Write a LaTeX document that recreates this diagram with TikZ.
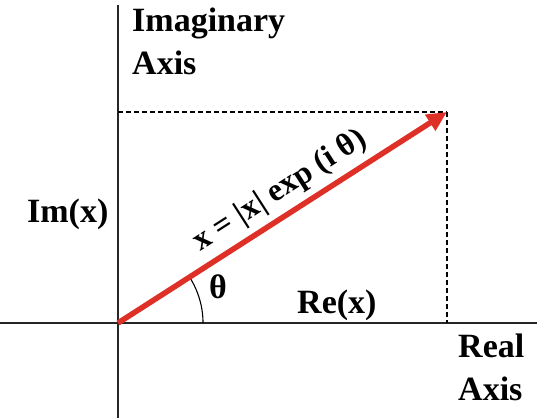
\documentclass[tikz,border=0pt]{standalone}
\usepackage{fontspec}
\setmainfont{Liberation Serif}
\usetikzlibrary{arrows.meta}
\definecolor{vecred}{RGB}{222,48,38}
\tikzset{
  axis/.style={line width=1.8pt, draw=black!85},
  guide/.style={line width=1.1pt, dash pattern=on 5pt off 3pt},
  vector/.style={line width=5.5pt, draw=vecred, -{Triangle[length=20pt,width=18pt]}},
  lbl/.style={font=\fontsize{34}{43}\selectfont\bfseries, inner sep=0pt, align=left},
  eq/.style={font=\fontsize{32}{36}\selectfont\bfseries, inner sep=0pt}
}
\begin{document}
\begin{tikzpicture}[x=1pt,y=1pt]
\useasboundingbox (0,0) rectangle (537,418);
\coordinate (O) at (118,95);
\coordinate (T) at (447,306);
\coordinate (Ytop) at (118,413);
\coordinate (Ybot) at (118,0);
\coordinate (Xl) at (0,95);
\coordinate (Xr) at (537,95);
\coordinate (Yp) at (118,306);
\coordinate (Xp) at (447,95);
\draw[axis] (Ybot) -- (Ytop);
\draw[axis] (Xl) -- (Xr);
\draw[guide] (Yp) -- (T);
\draw[guide] (T) -- (Xp);
\draw[line width=1.1pt] ([shift={(0:85)}]O) arc[start angle=0, end angle=32.7, radius=85];
\draw[vector] (O) -- (T);
\node[lbl, anchor=base west] (imag) at (132,343) {Imaginary\\Axis};
\node[lbl, anchor=base west] (im) at (27,196) {Im(x)};
\node[lbl, anchor=base west] (re) at (297,105) {Re(x)};
\node[lbl, anchor=base west] (th) at (209,120) {θ};
\node[lbl, anchor=base west] (real) at (458,18) {Real\\Axis};
\node[eq, rotate=32.7] (eqn) at (280,227) {x = |x| exp (i θ)};
\end{tikzpicture}
\end{document}
